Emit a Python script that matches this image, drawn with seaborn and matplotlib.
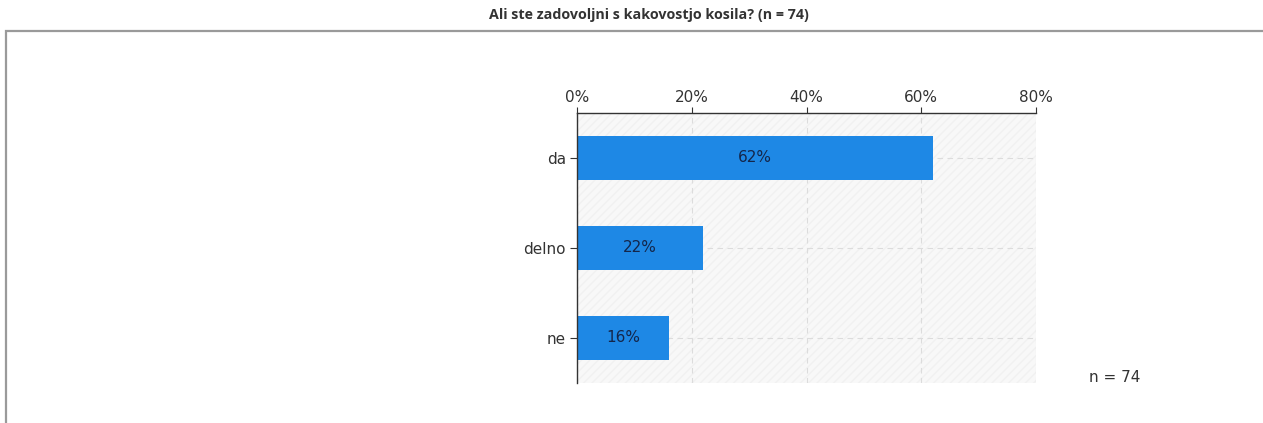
import matplotlib
matplotlib.use("Agg")
import matplotlib.pyplot as plt
import seaborn as sns
import pandas as pd
from matplotlib.patches import Rectangle
from matplotlib.ticker import FuncFormatter

# Survey answers and their shares (percent)
categories = ["da", "delno", "ne"]
shares = [62, 22, 16]
n_total = 74
title = "Ali ste zadovoljni s kakovostjo kosila? (n = 74)"

sns.set_theme(style="white")
plt.rcParams["font.family"] = ["DejaVu Sans"]

df = pd.DataFrame({"odgovor": categories, "delez": shares})

fig = plt.figure(figsize=(12.63, 4.23), dpi=100)
ax = fig.add_axes([0.4569, 0.0946, 0.3634, 0.6383])

ax.set_facecolor("#f8f8f8")
ax.set_axisbelow(True)

# faint diagonal texture in the plotting area
ax.add_patch(Rectangle((0, 0), 1, 1, transform=ax.transAxes, facecolor="none",
                       edgecolor="#f1f1f1", hatch="////", linewidth=0, zorder=0))

sns.barplot(data=df, x="delez", y="odgovor", orient="h", color="#1e88e5",
            saturation=1, width=0.49, ax=ax, zorder=3,
            linewidth=0, edgecolor="none")

ax.set_xlim(0, 80)
ax.set_ylim(2.5, -0.5)
ax.set_xticks([0, 20, 40, 60, 80])
ax.xaxis.set_major_formatter(FuncFormatter(lambda v, p: f"{v:.0f}%"))
ax.xaxis.tick_top()
ax.set_xlabel("")
ax.set_ylabel("")

ax.tick_params(axis="x", which="both", top=True, bottom=False, direction="out",
               length=4, width=0.8, color="#333333", labelsize=11,
               labelcolor="#333333", pad=2)
ax.tick_params(axis="y", left=True, direction="out", length=5, width=0.8,
               color="#333333", labelsize=11, labelcolor="#333333", pad=3)

for side in ["right", "bottom"]:
    ax.spines[side].set_visible(False)
for side in ["left", "top"]:
    ax.spines[side].set_color("#333333")
    ax.spines[side].set_linewidth(1.0)
    ax.spines[side].set_zorder(5)

ax.grid(True, axis="both", color="#dcdcdc", linestyle=(0, (5, 4)), linewidth=0.8)

for i, v in enumerate(shares):
    ax.text(v / 2, i, f"{v}%", ha="center", va="center", fontsize=11,
            color="#14264a", zorder=4)

fig.text(0.862, 0.107, f"n = {n_total}", ha="left", va="center", fontsize=11,
         color="#333333")

fig.text(0.514, 0.965, title, ha="center", va="center", fontsize=10.3,
         fontweight="bold", color="#333333", family=["Open Sans", "DejaVu Sans"])

# Outer panel frame (open to the right and bottom)
fig.add_artist(Rectangle((0.0045, -0.5), 2.0, 1.4265, transform=fig.transFigure,
                         fill=False, edgecolor="#9a9a9a", linewidth=1.6))

fig.savefig("out.png", dpi=100, facecolor="white")
